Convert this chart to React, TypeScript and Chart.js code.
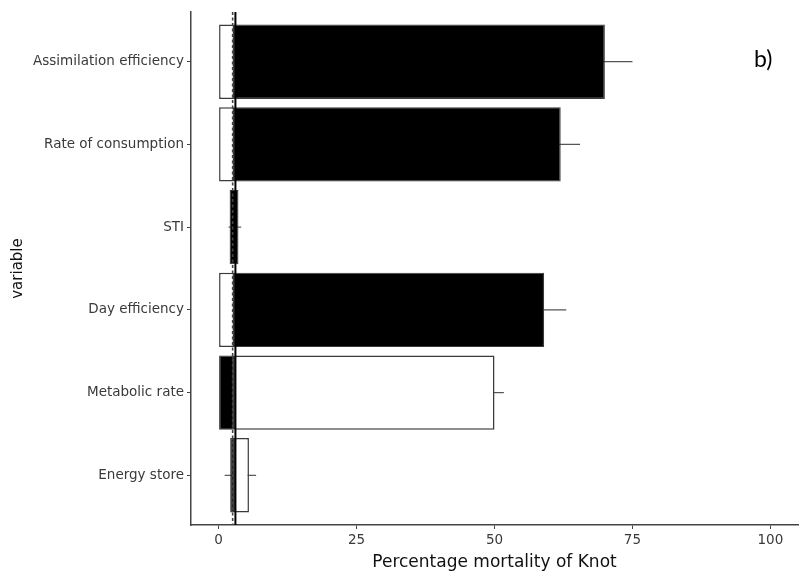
import React, { useEffect, useRef } from "react";
import { Chart, registerables } from "chart.js";

Chart.register(...registerables);

// ---- data ----
const categories = [
  "Assimilation efficiency",
  "Rate of consumption",
  "STI",
  "Day efficiency",
  "Metabolic rate",
  "Energy store",
];
// white (open) bars: start / end of the floating bar
const whiteStart: (number | null)[] = [0, 0, null, 0, 2.8, 2.8];
const whiteEnd: (number | null)[] = [2.8, 2.8, null, 2.8, 50, 5.5];
// black (filled) bars
const blackStart: (number | null)[] = [2.8, 2.8, 2.0, 2.8, 0, 2.1];
const blackEnd: (number | null)[] = [70, 62, 3.6, 59, 2.8, 2.8];
// error bars (low / high)
const blackErrLo: (number | null)[] = [65, 58.5, 1.8, 55, null, 1.1];
const blackErrHi: (number | null)[] = [75, 65.5, 4.1, 63, null, 3.1];
const whiteErrLo: (number | null)[] = [null, null, null, null, 48.3, 4.2];
const whiteErrHi: (number | null)[] = [null, null, null, null, 51.7, 6.8];
const xTicks = [0, 25, 50, 75, 100];
const dashedRef = 2.55;
const solidRef = 3.05;
const panelLabel = "b)";

const FONT = "'DejaVu Sans', 'Liberation Sans', Arial, sans-serif";

function toPoints(start: (number | null)[], end: (number | null)[]) {
  const pts: any[] = [];
  categories.forEach((_, i) => {
    if (start[i] != null && end[i] != null) pts.push({ x: [start[i], end[i]], y: i });
  });
  return pts;
}

const overlayPlugin = {
  id: "overlay",
  beforeDatasetsDraw(chart: any) {
    const { ctx, scales } = chart;
    const xs = scales.x;
    const ys = scales.y;
    ctx.save();
    ctx.strokeStyle = "#555";
    ctx.lineWidth = 1.2;
    const drawErr = (lo: (number | null)[], hi: (number | null)[]) => {
      categories.forEach((_, i) => {
        if (lo[i] == null || hi[i] == null) return;
        const y = ys.getPixelForValue(i);
        ctx.beginPath();
        ctx.moveTo(xs.getPixelForValue(lo[i]), y);
        ctx.lineTo(xs.getPixelForValue(hi[i]), y);
        ctx.stroke();
      });
    };
    drawErr(blackErrLo, blackErrHi);
    drawErr(whiteErrLo, whiteErrHi);
    ctx.restore();
  },
  afterDatasetsDraw(chart: any) {
    const { ctx, scales, chartArea } = chart;
    const xs = scales.x;
    ctx.save();
    // dashed reference line
    const xd = xs.getPixelForValue(dashedRef);
    ctx.strokeStyle = "#444";
    ctx.lineWidth = 1.6;
    ctx.setLineDash([3, 2.5]);
    ctx.beginPath();
    ctx.moveTo(xd, chartArea.top);
    ctx.lineTo(xd, chartArea.bottom);
    ctx.stroke();
    // solid reference line
    const xsl = xs.getPixelForValue(solidRef);
    ctx.setLineDash([]);
    ctx.strokeStyle = "#000";
    ctx.lineWidth = 2;
    ctx.beginPath();
    ctx.moveTo(xsl, chartArea.top);
    ctx.lineTo(xsl, chartArea.bottom);
    ctx.stroke();
    // panel label
    ctx.fillStyle = "#000";
    ctx.font = "23px Lato, 'Open Sans', sans-serif";
    ctx.textAlign = "left";
    ctx.textBaseline = "alphabetic";
    ctx.fillText(panelLabel, chartArea.right - 44, chartArea.top + 55);
    ctx.restore();
  },
};

export default function App() {
  const ref = useRef<HTMLCanvasElement | null>(null);

  useEffect(() => {
    document.body.style.margin = "0";
    if (!ref.current) return;
    const chart = new Chart(ref.current, {
      type: "bar",
      data: {
        datasets: [
          {
            label: "white",
            data: toPoints(whiteStart, whiteEnd),
            backgroundColor: "#ffffff",
            borderColor: "#3a3a3a",
            borderWidth: 1.5,
            borderSkipped: false,
            grouped: false,
            barPercentage: 0.9,
            categoryPercentage: 1,
          } as any,
          {
            label: "black",
            data: toPoints(blackStart, blackEnd),
            backgroundColor: "#000000",
            borderColor: "#3a3a3a",
            borderWidth: 1.2,
            borderSkipped: false,
            grouped: false,
            barPercentage: 0.9,
            categoryPercentage: 1,
          } as any,
        ],
      },
      options: {
        indexAxis: "y",
        animation: false,
        responsive: true,
        maintainAspectRatio: false,
        layout: { padding: { top: 12, right: 5, left: 0, bottom: 0 } },
        plugins: {
          legend: { display: false },
          tooltip: { enabled: false },
        },
        scales: {
          x: {
            type: "linear",
            min: -5,
            max: 105,
            offset: false,
            afterBuildTicks: (s: any) => {
              s.ticks = xTicks.map((v) => ({ value: v }));
            },
            afterFit: (s: any) => {
              s.height = 60;
            },
            grid: {
              display: true,
              offset: false,
              drawOnChartArea: false,
              drawTicks: true,
              tickLength: 4,
              color: "#444",
              lineWidth: 1,
            },
            border: { display: true, color: "#444", width: 1.5 },
            ticks: {
              color: "#3a3a3a",
              font: { family: FONT, size: 13.5 },
              padding: 3,
              maxRotation: 0,
            },
            title: {
              display: true,
              text: "Percentage mortality of Knot",
              color: "#111",
              font: { family: FONT, size: 17 },
              padding: { top: 0, bottom: 12 },
            },
          },
          y: {
            type: "linear",
            min: -0.6,
            max: 5.6,
            reverse: true,
            offset: false,
            afterBuildTicks: (s: any) => {
              s.ticks = categories.map((_, i) => ({ value: i }));
            },
            afterFit: (s: any) => {
              s.width = 191;
            },
            grid: {
              display: true,
              offset: false,
              drawOnChartArea: false,
              drawTicks: true,
              tickLength: 4,
              color: "#444",
              lineWidth: 1,
            },
            border: { display: true, color: "#444", width: 1.5 },
            ticks: {
              color: "#3a3a3a",
              font: { family: FONT, size: 13.5 },
              padding: 3,
              autoSkip: false,
              callback: (v: any) => categories[Math.round(Number(v))] ?? "",
            },
            title: {
              display: true,
              text: "variable",
              color: "#111",
              font: { family: FONT, size: 15 },
              padding: { top: 9, bottom: 0 },
            },
          },
        },
      } as any,
      plugins: [overlayPlugin],
    });
    return () => chart.destroy();
  }, []);

  return (
    <div style={{ position: "relative", width: 803, height: 585 }}>
      <canvas ref={ref} />
    </div>
  );
}
